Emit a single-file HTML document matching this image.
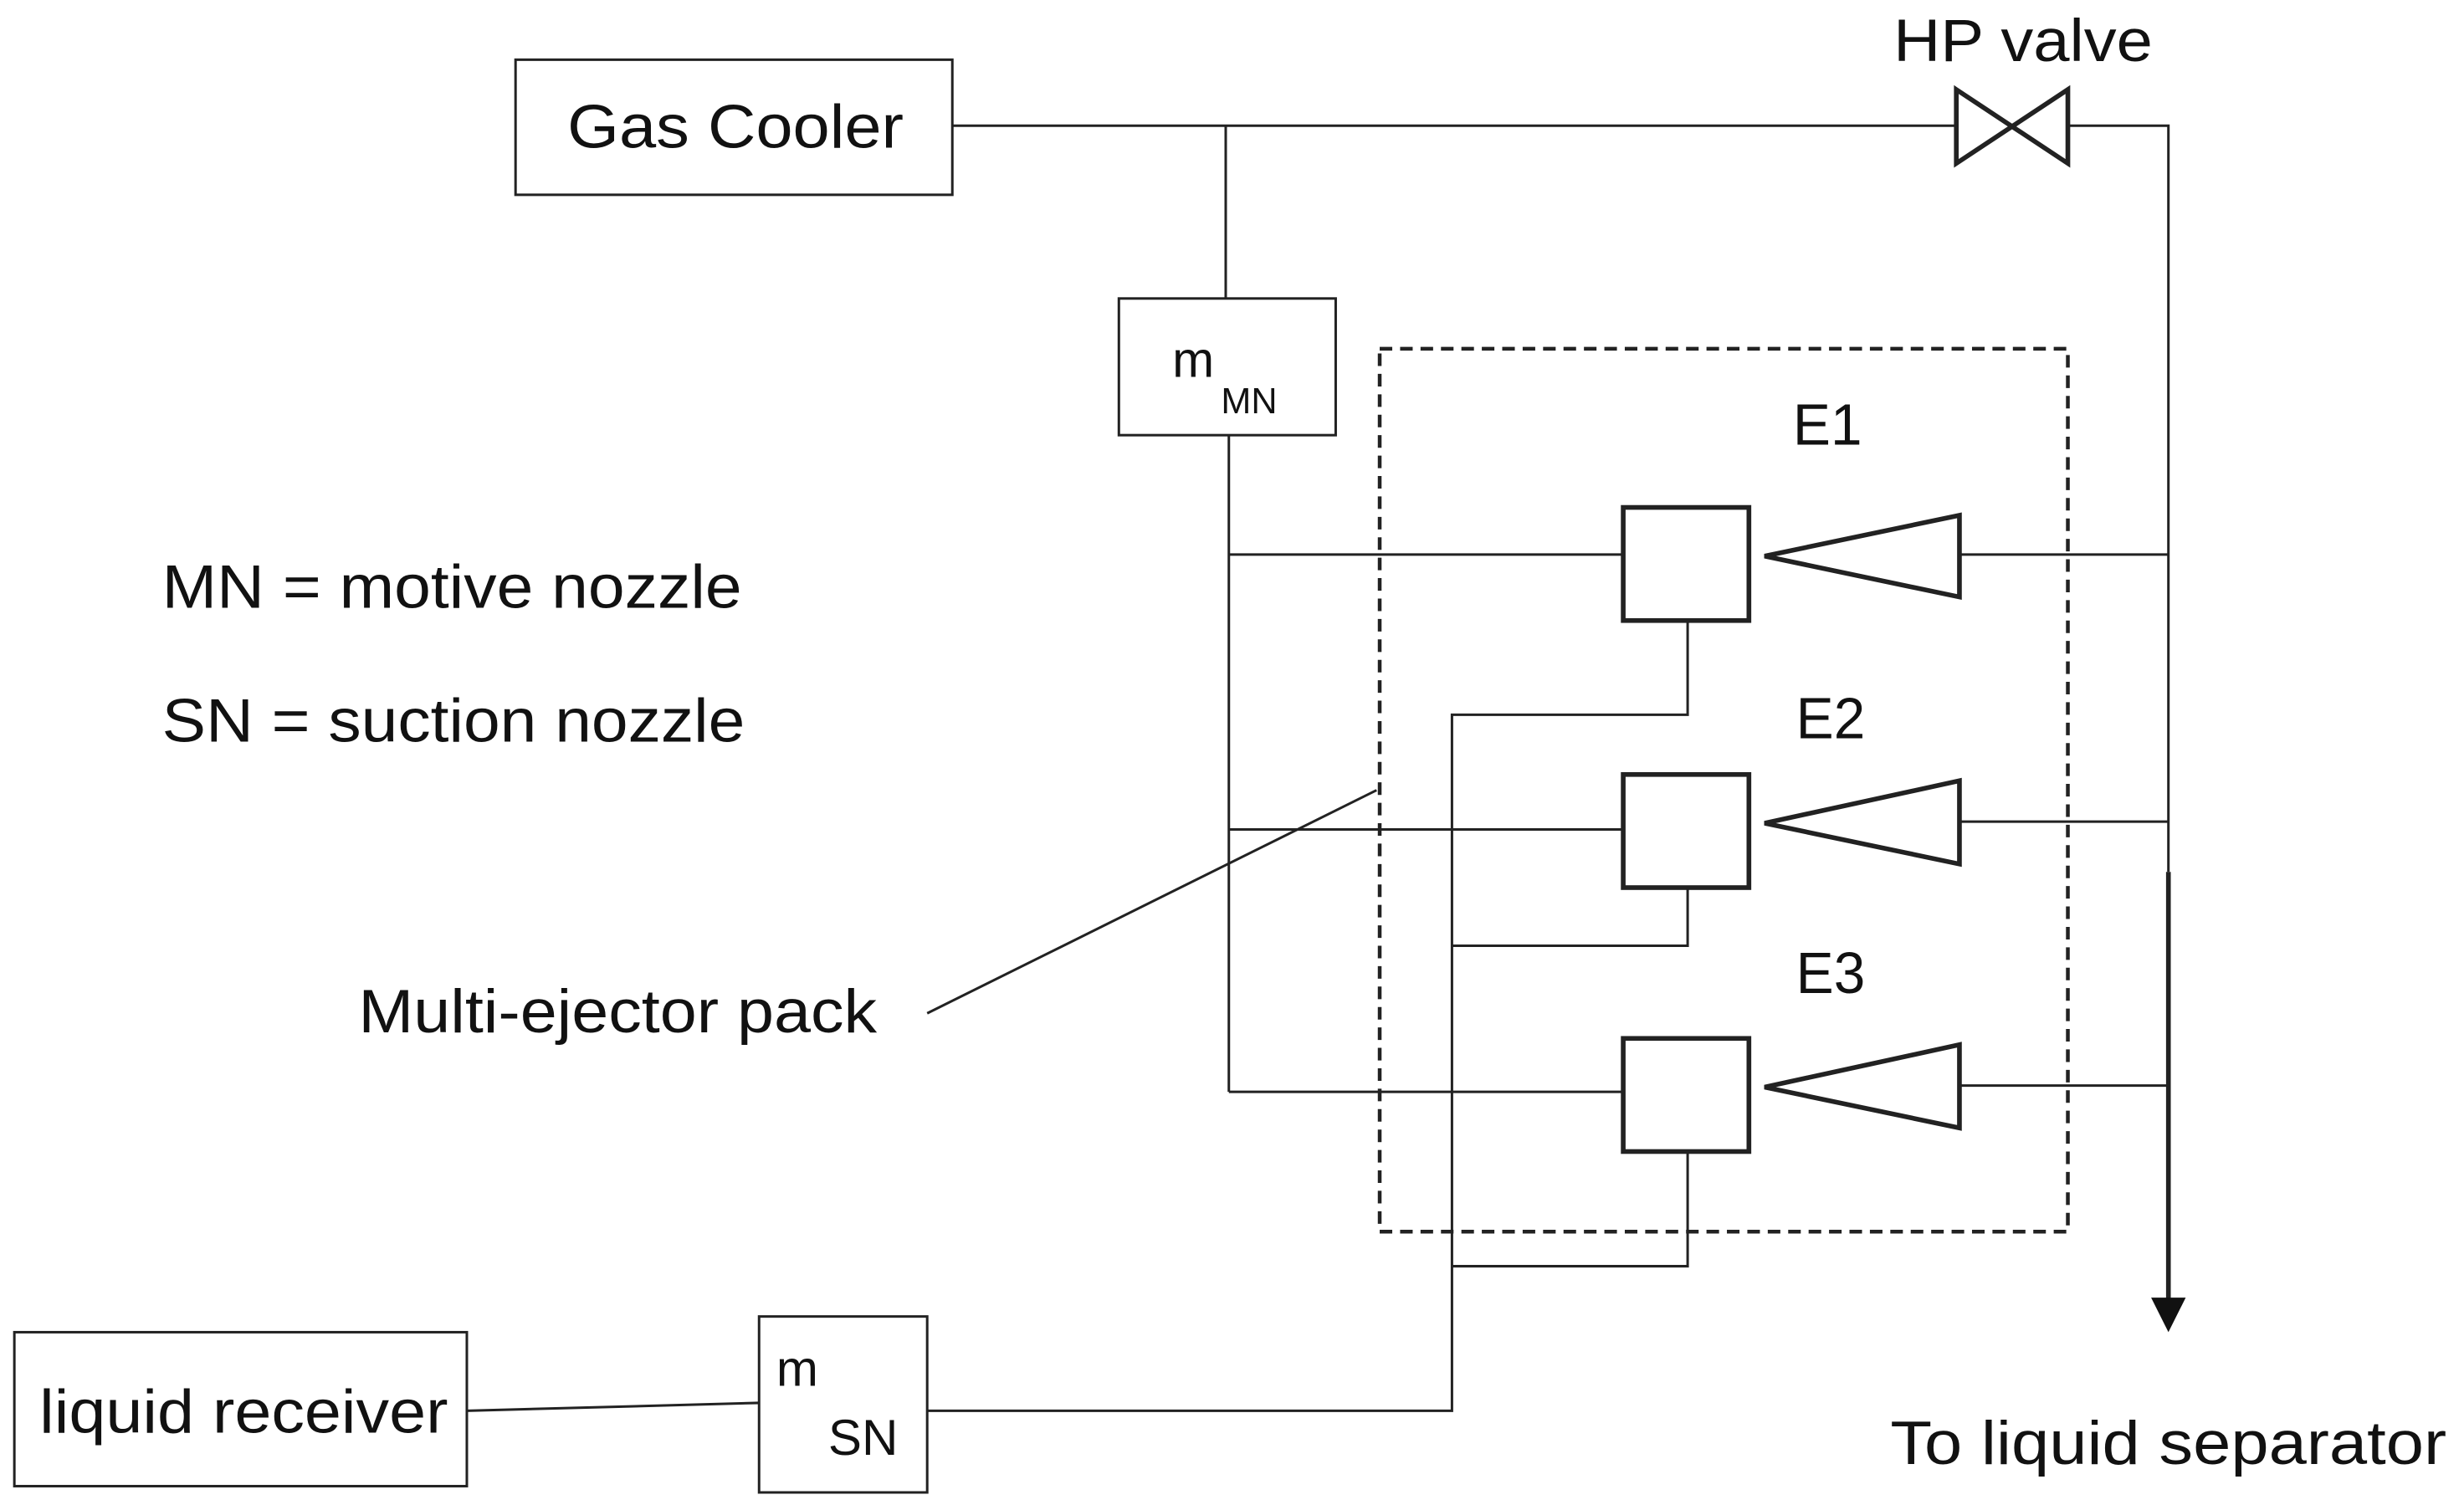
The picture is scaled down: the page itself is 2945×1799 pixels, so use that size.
<!DOCTYPE html>
<html><head><style>html,body{margin:0;padding:0;background:#fff}svg{display:block}text{font-family:"Liberation Sans",Arial,sans-serif;fill:#111}</style></head>
<body>
<svg width="2945" height="1799" viewBox="0 0 1568 958" xmlns="http://www.w3.org/2000/svg">
<g stroke="#222" fill="none" stroke-width="1.6">
<rect x="328" y="38" width="278" height="86"/>
<line x1="606" y1="80" x2="1245" y2="80"/>
<polygon points="1245,57 1316,104 1316,57 1245,104" stroke-width="3"/>
<polyline points="1316,80 1380,80 1380,555"/>
<line x1="1380" y1="555" x2="1380" y2="832" stroke-width="3"/>
<line x1="780" y1="80" x2="780" y2="190"/>
<rect x="712" y="190" width="138" height="87"/>
<line x1="782" y1="277" x2="782" y2="695"/>
<line x1="782" y1="353" x2="1033" y2="353"/>
<line x1="782" y1="528" x2="1033" y2="528"/>
<line x1="782" y1="695" x2="1033" y2="695"/>
<rect x="878" y="222" width="438" height="562" stroke-width="2.4" stroke-dasharray="8,5"/>
<g stroke-width="3">
<rect x="1033" y="323" width="80" height="72"/>
<rect x="1033" y="493" width="80" height="72"/>
<rect x="1033" y="661" width="80" height="72"/>
<polygon points="1123,354 1247,328 1247,380"/>
<polygon points="1123,524 1247,497 1247,550"/>
<polygon points="1123,692 1247,665 1247,718"/>
</g>
<line x1="1247" y1="353" x2="1380" y2="353"/>
<line x1="1247" y1="523" x2="1380" y2="523"/>
<line x1="1247" y1="691" x2="1380" y2="691"/>
<polyline points="1074,395 1074,455 924,455 924,898 590,898"/>
<polyline points="1074,565 1074,602 924,602"/>
<polyline points="1074,733 1074,806 924,806"/>
<rect x="483" y="838" width="107" height="112"/>
<rect x="9" y="848" width="288" height="98"/>
<line x1="297" y1="898" x2="483" y2="893"/>
<line x1="590" y1="645" x2="876" y2="503"/>
</g>
<polygon points="1369,826 1391,826 1380,848" fill="#111"/>
<g lengthAdjust="spacingAndGlyphs">
<text x="361" y="94" font-size="39" textLength="214" lengthAdjust="spacingAndGlyphs">Gas Cooler</text>
<text x="1205" y="39" font-size="38" textLength="165" lengthAdjust="spacingAndGlyphs">HP valve</text>
<text x="746" y="240" font-size="32">m</text>
<text x="777" y="263" font-size="23">MN</text>
<text x="1141" y="283" font-size="37" textLength="44" lengthAdjust="spacingAndGlyphs">E1</text>
<text x="1143" y="470" font-size="37" textLength="44" lengthAdjust="spacingAndGlyphs">E2</text>
<text x="1143" y="632" font-size="37" textLength="44" lengthAdjust="spacingAndGlyphs">E3</text>
<text x="103" y="387" font-size="39" textLength="369" lengthAdjust="spacingAndGlyphs">MN = motive nozzle</text>
<text x="103" y="472" font-size="39" textLength="371" lengthAdjust="spacingAndGlyphs">SN = suction nozzle</text>
<text x="228" y="657" font-size="39" textLength="330" lengthAdjust="spacingAndGlyphs">Multi-ejector pack</text>
<text x="494" y="882" font-size="32">m</text>
<text x="527" y="926" font-size="32">SN</text>
<text x="25" y="912" font-size="39" textLength="260" lengthAdjust="spacingAndGlyphs">liquid receiver</text>
<text x="1203" y="932" font-size="39" textLength="354" lengthAdjust="spacingAndGlyphs">To liquid separator</text>
</g>
</svg>
</body></html>
